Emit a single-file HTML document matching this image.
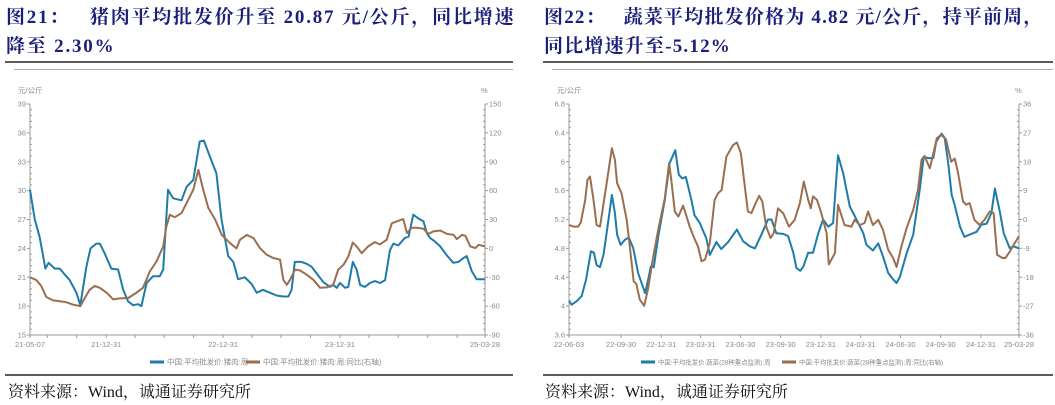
<!DOCTYPE html>
<html><head><meta charset="utf-8">
<style>
body{margin:0;width:1055px;height:405px;background:#fff;overflow:hidden;position:relative;font-family:"Liberation Serif","Noto Serif CJK SC",serif}
.title{position:absolute;top:3px;font-weight:bold;font-size:19px;line-height:29px;color:#1b1f7a;font-family:"Liberation Serif","Noto Serif CJK SC",serif;white-space:nowrap}
.rule{position:absolute;height:2px;background:#5a5a5a}
.thin{position:absolute;height:1px;background:#b0b0b0}
.src{position:absolute;top:379px;font-size:16px;color:#111}
svg{position:absolute;left:0;top:0}
</style></head><body>
<div class="title" style="left:6px;letter-spacing:1.8px">图21：&nbsp;&nbsp;&nbsp;猪肉平均批发价升至 20.87 元/公斤，同比增速<br>降至 2.30%</div>
<div class="title" style="left:544px;letter-spacing:1.2px">图22：&nbsp;&nbsp;&nbsp;蔬菜平均批发价格为 4.82 元/公斤，持平前周，<br>同比增速升至-5.12%</div>
<div class="rule" style="left:5px;top:61px;width:508px"></div>
<div class="thin" style="left:14px;top:69px;width:499px"></div>
<div class="rule" style="left:543px;top:61px;width:510px"></div>
<div class="thin" style="left:552px;top:69px;width:501px"></div>
<div class="rule" style="left:5px;top:374px;width:508px"></div>
<div class="rule" style="left:543px;top:374px;width:510px"></div>
<div class="src" style="left:8px">资料来源：Wind，诚通证券研究所</div>
<div class="src" style="left:545px">资料来源：Wind，诚通证券研究所</div>
<svg id="svg" width="1055" height="405"></svg>
<script>
// ---- Chart 1: pork ----
const porkDays=[0,15,30,48,58,77,93,108,124,145,157,176,189,207,218,233,254,275,291,306,322,338,348,364,384,405,416,431,447,473,489,510,530,543,562,582,598,619,635,650,671,692,708,728,749,770,791,807,817,827,848,864,879,895,916,937,947,958,968,984,994,1008,1020,1031,1046,1062,1077,1093,1109,1124,1135,1150,1171,1182,1197,1213,1229,1239,1249,1265,1281,1301,1322,1338,1354,1364,1380,1395,1421];
const porkPrice=[30.1,27,25.2,21.9,22.5,21.9,21.9,21.3,20.7,19.4,18.1,22.1,24,24.5,24.5,23.5,21.9,21.8,19.7,18.5,18.1,18.2,18.0,20.4,21.1,21.1,21.8,30.1,29.2,29.0,30.4,31.1,35.1,35.2,33.5,31.8,27,23.2,22.6,20.8,21,20.3,19.4,19.7,19.4,19.1,19.0,19.0,19.7,22.6,22.6,22.4,22.1,21.4,20.5,20.0,20.2,19.9,20.4,19.9,20.0,22.6,21.8,20.2,20.0,20.4,20.6,20.4,20.7,23.8,24.5,24.3,25.1,25.2,27.5,27.1,26.8,25.6,25.1,24.7,24.2,23.3,22.5,22.6,23,23.2,21.6,20.8,20.8];
const porkYoyDays=[0,20,35,51,72,93,114,135,157,171,186,202,218,239,260,281,307,333,353,374,395,416,426,437,452,473,489,510,526,541,557,578,599,625,645,656,677,698,718,739,760,781,791,802,812,828,843,864,885,906,927,947,963,979,994,1008,1020,1036,1056,1077,1093,1114,1130,1145,1166,1177,1192,1208,1229,1245,1260,1281,1302,1323,1333,1349,1360,1375,1391,1401,1421];
const porkYoy=[-30,-33,-39,-50.5,-54,-55,-56,-58.5,-60,-51.6,-43,-39,-41,-46,-53,-52,-51.6,-46,-41,-24,-13.6,2,22.7,35,32.4,36.5,47,61,81.5,61,42,30,14,5.4,0,9,14,10.7,0.3,-6.6,-10,-11.8,-32.6,-37.8,-32.6,-22,-22.9,-27.4,-32.6,-41,-40.5,-37.8,-22,-17,-8.4,6,2,-5,2,6.5,4,9,26,28,30.4,16,21.4,21.4,20.3,15,17.6,18.6,15,14,9.6,14,13,2,0.3,3.7,2];
const porkLeftTicks=[15,18,21,24,27,30,33,36,39];
const porkRightTicks=[-90,-60,-30,0,30,60,90,120,150];
const porkXLabels=["21-05-07","21-12-31","22-12-31","23-12-31","25-03-28"];
const porkXLabelDays=[0,238,603,968,1421];
const porkQuarterDays=[54,146,238,328,419,511,603,693,784,876,968,1059,1150,1242,1334,1421];
// ---- Chart 2: vegetables ----
const vegDays=[0,6,18,29,39,50,57,63,71,79,86,98,105,110,118,128,137,147,158,174,181,187,194,204,219,230,243,251,259,267,280,287,299,314,322,337,348,364,384,398,413,425,440,455,463,474,490,501,513,520,529,536,547,558,570,581,593,604,615,627,642,654,673,680,695,707,718,730,741,749,757,772,787,802,811,821,833,840,852,859,867,875,882,894,904,920,932,943,955,966,974,985,994,1008,1016,1029];
const vegPrice=[4.07,4.02,4.07,4.14,4.37,4.76,4.74,4.57,4.54,4.71,5.01,5.54,5.29,4.99,4.85,4.92,4.95,4.8,4.46,4.18,4.37,4.55,4.54,4.96,5.47,5.98,6.16,5.82,5.77,5.79,5.47,5.26,5.15,4.94,4.71,4.89,4.79,4.89,5.06,4.9,4.83,4.8,4.99,5.2,5.2,5.01,5.0,4.97,4.74,4.53,4.49,4.55,4.74,4.74,5.01,5.2,5.1,5.15,6.09,5.84,5.38,5.24,5.01,4.85,4.77,4.87,4.69,4.46,4.37,4.32,4.41,4.73,4.99,5.61,6.07,6.05,6.05,6.28,6.39,6.33,5.98,5.54,5.4,5.1,4.96,5.0,5.03,5.13,5.14,5.29,5.63,5.31,5.01,4.8,4.83,4.8];
const vegYoyDays=[0,10,21,27,37,42,48,56,63,71,82,98,105,110,120,132,139,148,154,162,172,181,192,204,219,229,234,242,250,261,269,276,288,295,303,311,322,333,341,349,360,375,384,393,402,409,417,425,435,442,451,461,468,478,490,503,516,528,537,547,553,558,567,577,589,594,608,615,630,646,653,665,676,684,695,707,718,730,741,749,760,772,787,798,806,813,825,832,841,851,862,874,882,889,901,908,916,927,939,950,962,971,979,991,998,1008,1019,1029];
const vegYoy=[-1.7,-2.2,-2.2,-0.9,6.1,12.3,13.4,6.1,-1.7,-2.2,7.7,22.2,18.6,11.3,8.2,-0.1,-8.4,-19.3,-20,-25,-26.9,-21.4,-12,-3.2,6.6,17.5,12.3,2.5,0.9,4.3,0.9,-2.2,-6.3,-8.4,-13,-12.5,-7.4,6.1,8.2,9.2,19.6,23.2,24,20.6,10.3,2.5,2,4.6,7.4,5.6,-2.2,-5.8,-4.2,3.5,1.9,-2.2,-0.1,5.1,11.8,6.1,3.5,7.2,6.1,2,-4.2,-14,-10.5,4.6,-1.7,-2.2,-0.1,-1.7,-1.1,2.5,-1.7,-0.1,-3.2,-9.4,-12,-14.8,-8.4,-2.7,3,9.2,18.6,19.8,16,19.8,25.3,26.4,25,18,19,15,5.6,4.6,5.1,-0.1,-1.7,-0.1,2.5,2,-11,-12,-12,-10,-7.4,-5.3];
const vegLeftTicks=[3.6,4,4.4,4.8,5.2,5.6,6,6.4,6.8];
const vegRightTicks=[-36,-27,-18,-9,0,9,18,27,36];
const vegXLabels=["22-06-03","22-09-30","22-12-31","23-03-31","23-06-30","23-09-30","23-12-31","24-03-31","24-06-30","24-09-30","24-12-31","25-03-28"];
const vegXLabelDays=[0,119,211,301,392,484,576,667,758,850,942,1029];

const NS="http://www.w3.org/2000/svg";
const svg=document.getElementById('svg');
function mk(tag,attrs,parent){const e=document.createElementNS(NS,tag);for(const k in attrs)e.setAttribute(k,attrs[k]);(parent||svg).appendChild(e);return e;}
function txt(x,y,s,anchor,parent,fs){const t=mk('text',{x:x,y:y,'font-size':fs||'7.5','fill':'#8a8a8a','text-anchor':anchor,'font-family':'"Liberation Sans","Noto Sans CJK SC",sans-serif'},parent);t.textContent=s;return t;}

function drawChart(o){
  const g=mk('g',{});
  
  
  const L=o.left,R=o.right,T=104,B=335;
  const xS=d=>L+(d/o.maxDay)*(R-L);
  const yL=v=>B-(v-o.lTicks[0])/(o.lTicks[o.lTicks.length-1]-o.lTicks[0])*(B-T);
  const yR=v=>B-(v-o.rTicks[0])/(o.rTicks[o.rTicks.length-1]-o.rTicks[0])*(B-T);
  const ax={stroke:'#9a9a9a','stroke-width':'1'};
  const la=mk('line',Object.assign({x1:L,y1:T,x2:L,y2:B},ax),g);
  
  const ra=mk('line',Object.assign({x1:R,y1:T,x2:R,y2:B},ax),g);
  
  const xa=mk('line',Object.assign({x1:L,y1:B,x2:R,y2:B},ax),g);
  
  for(let i=0;i<o.lTicks.length;i++){
    const y=yL(o.lTicks[i]);
    mk('line',Object.assign({x1:L-3,y1:y,x2:L,y2:y},ax),g);
    const t=txt(L-4,y+2.5,String(o.lTicks[i]),'end',g);
    
    const y2=yR(o.rTicks[i]);
    mk('line',Object.assign({x1:R,y1:y2,x2:R+3,y2:y2},ax),g);
    const t2=txt(R+4,y2+2.5,String(o.rTicks[i]),'start',g);
    
    if(i<o.lTicks.length-1){
      const step=(yL(o.lTicks[i])-yL(o.lTicks[i+1]))/5;
      for(let k=1;k<5;k++){const yy=y-k*step;
        mk('line',Object.assign({x1:L,y1:yy,x2:L+2,y2:yy},ax),g);
        mk('line',Object.assign({x1:R-2,y1:yy,x2:R,y2:yy},ax),g);}
    }
  }
  const ul=txt(L-12,93,o.lUnit,'start',g);
  const ur=txt(R-4,93,'%','start',g);
  o.qDays.forEach(d=>mk('line',Object.assign({x1:xS(d),y1:B,x2:xS(d),y2:B+3},ax),g));
  mk('line',Object.assign({x1:xS(0),y1:B,x2:xS(0),y2:B+3},ax),g);
  o.xLabels.forEach((s,i)=>{const t=txt(xS(o.xLabelDays[i]),B+12,s,'middle',g);
    });
  const line=(xs,vs,sc,col,name)=>{
    const p=mk('polyline',{points:xs.map((d,i)=>xS(d).toFixed(1)+','+sc(vs[i]).toFixed(1)).join(' '),fill:'none',stroke:col,'stroke-width':'2','stroke-linejoin':'round'},g);
    
  };
  line(o.bX,o.bV,yL,'#1f7ba8',o.name+'-price-line');
  line(o.rX,o.rV,yR,'#9a6f4f',o.name+'-yoy-line');
  const lg=mk('g',{},g);
  const ly=362;
  mk('line',{x1:o.leg1,y1:ly,x2:o.leg1+14,y2:ly,stroke:'#1f7ba8','stroke-width':'3'},lg);
  const l1=txt(o.leg1+17,ly+2.5,o.legText1,'start',lg,o.legFs);
  mk('line',{x1:o.leg2,y1:ly,x2:o.leg2+14,y2:ly,stroke:'#9a6f4f','stroke-width':'3'},lg);
  const l2=txt(o.leg2+17,ly+2.5,o.legText2,'start',lg,o.legFs);
}
drawChart({name:'pork-chart',left:30,right:485,maxDay:1421,lTicks:porkLeftTicks,rTicks:porkRightTicks,lUnit:'元/公斤',
  qDays:porkQuarterDays,xLabels:porkXLabels,xLabelDays:porkXLabelDays,bX:porkDays,bV:porkPrice,rX:porkYoyDays,rV:porkYoy,
  leg1:150,legText1:'中国:平均批发价:猪肉:周',leg2:246,legText2:'中国:平均批发价:猪肉:周:同比(右轴)',legFs:'7.5'});
drawChart({name:'vegetable-chart',left:569,right:1019,maxDay:1029,lTicks:vegLeftTicks,rTicks:vegRightTicks,lUnit:'元/公斤',
  qDays:vegXLabelDays,xLabels:vegXLabels,xLabelDays:vegXLabelDays,bX:vegDays,bV:vegPrice,rX:vegYoyDays,rV:vegYoy,
  leg1:641,legText1:'中国:平均批发价:蔬菜(28种重点监测):周',leg2:782,legText2:'中国:平均批发价:蔬菜(28种重点监测):周:同比(右轴)',legFs:'6.4'});
</script>
</body></html>
